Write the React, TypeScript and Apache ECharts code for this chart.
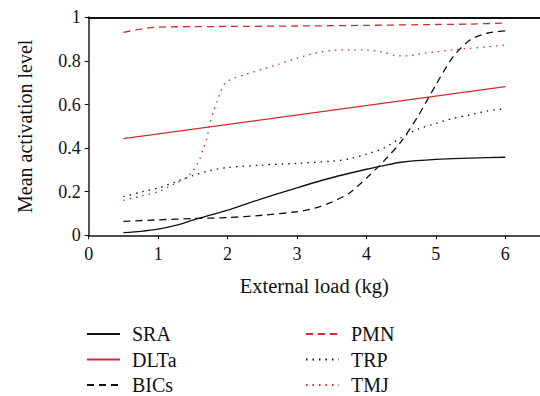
import React, { useEffect, useRef } from "react";
import * as echarts from "echarts";

const sraX = [0.5, 0.75, 1, 1.25, 1.5, 1.75, 2, 2.25, 2.5, 2.75, 3, 3.5, 4, 4.25, 4.5, 5, 5.5, 6];
const sraY = [0.012, 0.018, 0.028, 0.045, 0.07, 0.092, 0.115, 0.142, 0.168, 0.193, 0.218, 0.264, 0.303, 0.32, 0.335, 0.348, 0.354, 0.358];

const dltaX = [0.5, 6];
const dltaY = [0.443, 0.682];

const bicsX = [0.5, 1, 1.5, 2, 2.5, 3, 3.25, 3.5, 3.75, 4, 4.25, 4.5, 4.75, 5, 5.25, 5.5, 5.75, 6];
const bicsY = [0.064, 0.071, 0.077, 0.081, 0.092, 0.108, 0.124, 0.152, 0.193, 0.262, 0.34, 0.43, 0.55, 0.69, 0.82, 0.898, 0.928, 0.938];

const pmnX = [0.5, 0.75, 1, 1.5, 2, 3, 4, 5, 5.5, 6];
const pmnY = [0.931, 0.946, 0.955, 0.957, 0.958, 0.96, 0.963, 0.967, 0.969, 0.974];

const trpX = [0.5, 0.75, 1, 1.25, 1.5, 1.75, 2, 2.5, 3, 3.5, 3.75, 4, 4.25, 4.5, 4.75, 5, 5.25, 5.5, 5.75, 6];
const trpY = [0.177, 0.198, 0.217, 0.245, 0.274, 0.297, 0.311, 0.322, 0.33, 0.34, 0.35, 0.372, 0.4, 0.448, 0.488, 0.513, 0.537, 0.553, 0.571, 0.581];

const tmjX = [0.5, 0.75, 1, 1.25, 1.4, 1.5, 1.55, 1.6, 1.65, 1.7, 1.75, 1.8, 1.85, 1.9, 1.95, 2, 2.1, 2.25, 2.5, 2.75, 3, 3.25, 3.5, 3.75, 4, 4.25, 4.4, 4.6, 4.8, 5, 5.25, 5.5, 5.75, 6];
const tmjY = [0.16, 0.18, 0.2, 0.238, 0.262, 0.295, 0.32, 0.35, 0.398, 0.44, 0.52, 0.571, 0.615, 0.659, 0.692, 0.707, 0.722, 0.737, 0.762, 0.786, 0.812, 0.835, 0.848, 0.851, 0.85, 0.84, 0.825, 0.823, 0.834, 0.842, 0.851, 0.858, 0.865, 0.873];

const RED = "#d12a30";
const BLACK = "#111111";
const FONT = "'Liberation Serif', 'Times New Roman', serif";

const zip = (xs: number[], ys: number[]) => xs.map((x, i) => [x, ys[i]]);

export default function App() {
  const ref = useRef<HTMLDivElement>(null);
  useEffect(() => {
    if (!ref.current) return;
    const chart = echarts.init(ref.current, undefined, { renderer: "svg" });
    const mk = (name: string, xs: number[], ys: number[], color: string, type: any) => ({
      name,
      type: "line",
      data: zip(xs, ys),
      symbol: "none",
      smooth: 0.25,
      lineStyle: { color, width: 1.3, type },
      itemStyle: { color },
    });
    const dashed = [7, 5];
    const dotted = [1.5, 5];
    const legendCommon = {
      orient: "vertical",
      padding: 0,
      itemWidth: 33,
      itemHeight: 12,
      itemGap: 5.5,
      itemStyle: { color: "transparent", borderColor: "transparent", borderWidth: 0, opacity: 0 },
      textStyle: { fontFamily: FONT, fontSize: 20, color: "#111", padding: [0, 0, 0, 7], lineHeight: 20 },
    };
    chart.setOption({
      animation: false,
      textStyle: { fontFamily: FONT },
      grid: { left: 88.7, top: 17.3, right: 0, bottom: 160.7 },
      xAxis: [
        {
          type: "value",
          min: 0,
          max: 6.5,
          interval: 1,
          name: "External load (kg)",
          nameLocation: "middle",
          nameGap: 40,
          nameTextStyle: { fontFamily: FONT, fontSize: 20.5, color: "#111" },
          axisLine: { lineStyle: { color: BLACK, width: 1.5 } },
          axisTick: { length: 4, lineStyle: { color: BLACK } },
          axisLabel: {
            margin: 10,
            fontFamily: FONT,
            fontSize: 18,
            color: "#111",
            showMaxLabel: false,
            formatter: (v: number) => (Number.isInteger(v) ? String(v) : ""),
          },
          splitLine: { show: false },
        },
        {
          type: "value",
          position: "top",
          min: 0,
          max: 6.5,
          axisLine: { show: true, lineStyle: { color: BLACK, width: 1.8 } },
          axisTick: { show: false },
          axisLabel: { show: false },
          splitLine: { show: false },
        },
      ],
      yAxis: {
        type: "value",
        min: 0,
        max: 1,
        interval: 0.2,
        name: "Mean activation level",
        nameLocation: "middle",
        nameGap: 54,
        nameTextStyle: { fontFamily: FONT, fontSize: 20, color: "#111" },
        axisLine: { show: true, lineStyle: { color: "#555", width: 2 } },
        axisTick: { show: true, length: 4, lineStyle: { color: BLACK } },
        axisLabel: { margin: 8, fontFamily: FONT, fontSize: 18, color: "#111" },
        splitLine: { show: false },
      },
      legend: [
        { ...legendCommon, data: ["SRA", "DLTa", "BICs"], left: 86, top: 324 },
        { ...legendCommon, data: ["PMN", "TRP", "TMJ"], left: 305, top: 324 },
      ],
      series: [
        mk("SRA", sraX, sraY, BLACK, "solid"),
        mk("DLTa", dltaX, dltaY, RED, "solid"),
        mk("BICs", bicsX, bicsY, BLACK, dashed),
        mk("PMN", pmnX, pmnY, RED, dashed),
        mk("TRP", trpX, trpY, BLACK, dotted),
        mk("TMJ", tmjX, tmjY, RED, dotted),
      ],
    });
    return () => chart.dispose();
  }, []);
  return <div ref={ref} style={{ width: 540, height: 396, position: "absolute", left: 0, top: 0 }} />;
}
